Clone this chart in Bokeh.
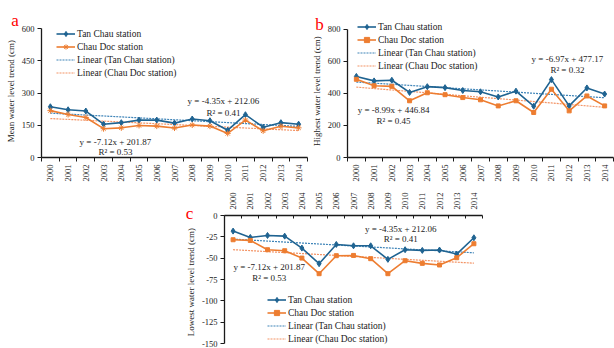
import numpy as np
from bokeh.plotting import figure
from bokeh.layouts import column, row
from bokeh.models import Range1d, FixedTicker, Label, Legend, LegendItem, Spacer
from bokeh.embed import file_html
from bokeh.resources import INLINE

years = list(range(2000, 2015))
year_labels = [str(y) for y in years]

mean_tan_chau = [236, 222, 216, 155, 162, 174, 174, 160, 179, 171, 127, 199, 141, 162, 155]
mean_chau_doc = [218, 200, 186, 134, 138, 149, 146, 137, 151, 146, 112, 174, 124, 145, 138]
high_tan_chau = [506, 478, 482, 406, 442, 436, 418, 410, 378, 414, 320, 486, 322, 434, 396]
high_chau_doc = [488, 448, 444, 354, 404, 392, 374, 360, 322, 354, 281, 426, 291, 384, 322]
low_tan_chau = [-18.3, -25.7, -23.4, -24.2, -38.2, -56.5, -33.9, -35.5, -35.5, -51.4, -40.1, -40.9, -40.5, -45.2, -26.1]
low_chau_doc = [-28.4, -29.2, -40.1, -41.3, -49.9, -68.2, -47.1, -46.8, -50.6, -68.2, -53.0, -56.1, -58.0, -49.5, -33.1]

mean_ticks = [0, 150, 300, 450, 600]
high_ticks = [0, 200, 400, 600, 800]
low_ticks = [-150, -125, -100, -75, -50, -25, 0]

series_names = ["Tan Chau station", "Chau Doc station",
                "Linear (Tan Chau station)", "Linear (Chau Doc station)"]

eq_a = [("y = -4.35x + 212.06", 2009.76, 260.5), ("R\u00b2 = 0.41", 2009.76, 204.7),
        ("y = -7.12x + 201.87", 2003.67, 74.4), ("R\u00b2 = 0.53", 2003.67, 27.9)]
eq_b = [("y = -6.97x + 477.17", 2011.9, 612), ("R\u00b2 = 0.32", 2011.9, 545),
        ("y = -8.99x + 446.84", 2002.1, 297), ("R\u00b2 = 0.45", 2002.1, 230)]
eq_c = [("y = -4.35x + 212.06", 2009.75, -16.4), ("R\u00b2 = 0.41", 2009.75, -28.1),
        ("y = -7.12x + 201.87", 2002.1, -60.9), ("R\u00b2 = 0.53", 2002.1, -72.7)]

FONT = "Liberation Serif"
BLUE = "#1F6391"
ORANGE = "#ED7D31"
BLUE_T = "#3E84B8"
ORANGE_T = "#F39466"
AX = "#1a1a1a"


def trend(vals):
    x = np.arange(len(vals))
    k, b = np.polyfit(x, np.array(vals, dtype=float), 1)
    return list(k * x + b)


def make_panel(width, height, mb, yr, ext, yticks, ylabel, tan, chau, chau_marker,
               letter, letter_pos, letter_place, eqs, leg_loc, above=False, x_standoff=3):
    frame_h = height - mb[2] - mb[3]
    upp = (yr[1] - yr[0]) / (frame_h - ext[0] - ext[1])
    y_range = Range1d(yr[0] - ext[1] * upp, yr[1] + ext[0] * upp)
    p = figure(width=width, height=height, output_backend="svg", toolbar_location=None,
               x_range=Range1d(1999.5, 2014.5), y_range=y_range,
               x_axis_location="above" if above else "below",
               min_border_left=mb[0], min_border_right=mb[1],
               min_border_top=mb[2], min_border_bottom=mb[3])
    p.xgrid.visible = False
    p.ygrid.visible = False
    p.outline_line_color = None

    xa = p.xaxis[0]
    xa.ticker = FixedTicker(ticks=years, minor_ticks=[y - 0.5 for y in years] + [years[-1] + 0.5])
    xa.major_label_overrides = {y: s for y, s in zip(years, year_labels)}
    xa.major_label_orientation = np.pi / 2
    xa.major_tick_line_color = None
    xa.major_tick_in = 0
    xa.major_tick_out = 0
    xa.minor_tick_line_color = AX
    if above:
        xa.minor_tick_in = 3
        xa.minor_tick_out = 0
    else:
        xa.minor_tick_in = 0
        xa.minor_tick_out = 4
    xa.axis_line_color = AX
    xa.axis_line_width = 1.3
    xa.major_label_text_font = FONT
    xa.major_label_text_font_size = "8.5px"
    xa.major_label_text_color = "#222222"
    xa.major_label_standoff = x_standoff

    ya = p.yaxis[0]
    ya.bounds = (yr[0], yr[1])
    ya.ticker = FixedTicker(ticks=yticks)
    ya.major_label_overrides = {t: str(t) for t in yticks}
    ya.minor_tick_line_color = None
    ya.major_tick_line_color = AX
    ya.major_tick_in = 0
    ya.major_tick_out = 4
    ya.axis_line_color = AX
    ya.axis_line_width = 1.3
    ya.major_label_text_font = FONT
    ya.major_label_text_font_size = "8.5px"
    ya.major_label_text_color = "#222222"
    ya.major_label_standoff = 3
    ya.axis_label = ylabel
    ya.axis_label_text_font = FONT
    ya.axis_label_text_font_size = "9px"
    ya.axis_label_text_font_style = "normal"
    ya.axis_label_text_color = "#222222"
    ya.axis_label_standoff = 3

    t_tan = p.line(years, trend(tan), line_color=BLUE_T, line_width=1.2, line_dash="2 1")
    t_chau = p.line(years, trend(chau), line_color=ORANGE_T, line_width=1.2, line_dash="2 1")
    l_tan = p.line(years, tan, line_color=BLUE, line_width=1.6)
    s_tan = p.scatter(years, tan, marker="diamond", size=6, color=BLUE)
    l_chau = p.line(years, chau, line_color=ORANGE, line_width=1.6)
    if chau_marker == "asterisk":
        s_chau = p.scatter(years, chau, marker="asterisk", size=6, line_color=ORANGE, line_width=1)
    else:
        s_chau = p.scatter(years, chau, marker="square", size=4, color=ORANGE)

    legend = Legend(items=[
        LegendItem(label=series_names[0], renderers=[l_tan, s_tan]),
        LegendItem(label=series_names[1], renderers=[l_chau, s_chau]),
        LegendItem(label=series_names[2], renderers=[t_tan]),
        LegendItem(label=series_names[3], renderers=[t_chau]),
    ], location=leg_loc)
    legend.padding = 0
    legend.margin = 0
    legend.spacing = 0
    legend.glyph_height = 13
    legend.label_height = 13
    legend.glyph_width = 19
    legend.label_standoff = 2
    legend.border_line_color = None
    legend.background_fill_alpha = 0
    legend.label_text_font = FONT
    legend.label_text_font_size = "9.5px"
    legend.label_text_color = "#222222"
    p.add_layout(legend, "center")

    for txt, x, y in eqs:
        p.add_layout(Label(x=x, y=y, text=txt, text_font=FONT, text_font_size="9px",
                           text_align="center", text_baseline="middle", text_color="#222222"))

    p.add_layout(Label(x=letter_pos[0], y=letter_pos[1], x_units="screen", y_units="screen",
                       text=letter, text_font=FONT,
                       text_font_size="17px", text_align="center", text_baseline="alphabetic",
                       text_color="#FF0000"), letter_place)
    return p


# panel a: page box x 0-308, y 0-187 ; frame left 41
pa = make_panel(308, 187, (41, 1, 22, 30), (0, 600), (6, 0), mean_ticks,
                "Mean water level trend  (cm)", mean_tan_chau, mean_chau_doc, "asterisk",
                "a", (14.5 - 41, 2), "above", eq_a, (15, 78))
# panel b: page box x 308-614, y 0-187 ; frame left 344
pb = make_panel(306, 187, (36, 1, 20, 28), (0, 800), (7, 0), high_ticks,
                "Highest water level trend  (cm)", high_tan_chau, high_chau_doc, "square",
                "b", (316 - 344, -1.5), "above", eq_b, (10, 85))
# panel c: page box x 174-483, y 187-348 ; frame left ~217
pc = make_panel(309, 161, (10, 1, 28, 2), (-150, 0), (0, 3), low_ticks,
                "Lowest water level trend  (cm)", low_tan_chau, low_chau_doc, "square",
                "c", (15, 346 - 213), "left", eq_c, (43, 1), above=True, x_standoff=6)

layout = column(row(pa, pb), row(Spacer(width=174, height=161), pc))

open("out.html", "w").write(file_html(layout, INLINE))
